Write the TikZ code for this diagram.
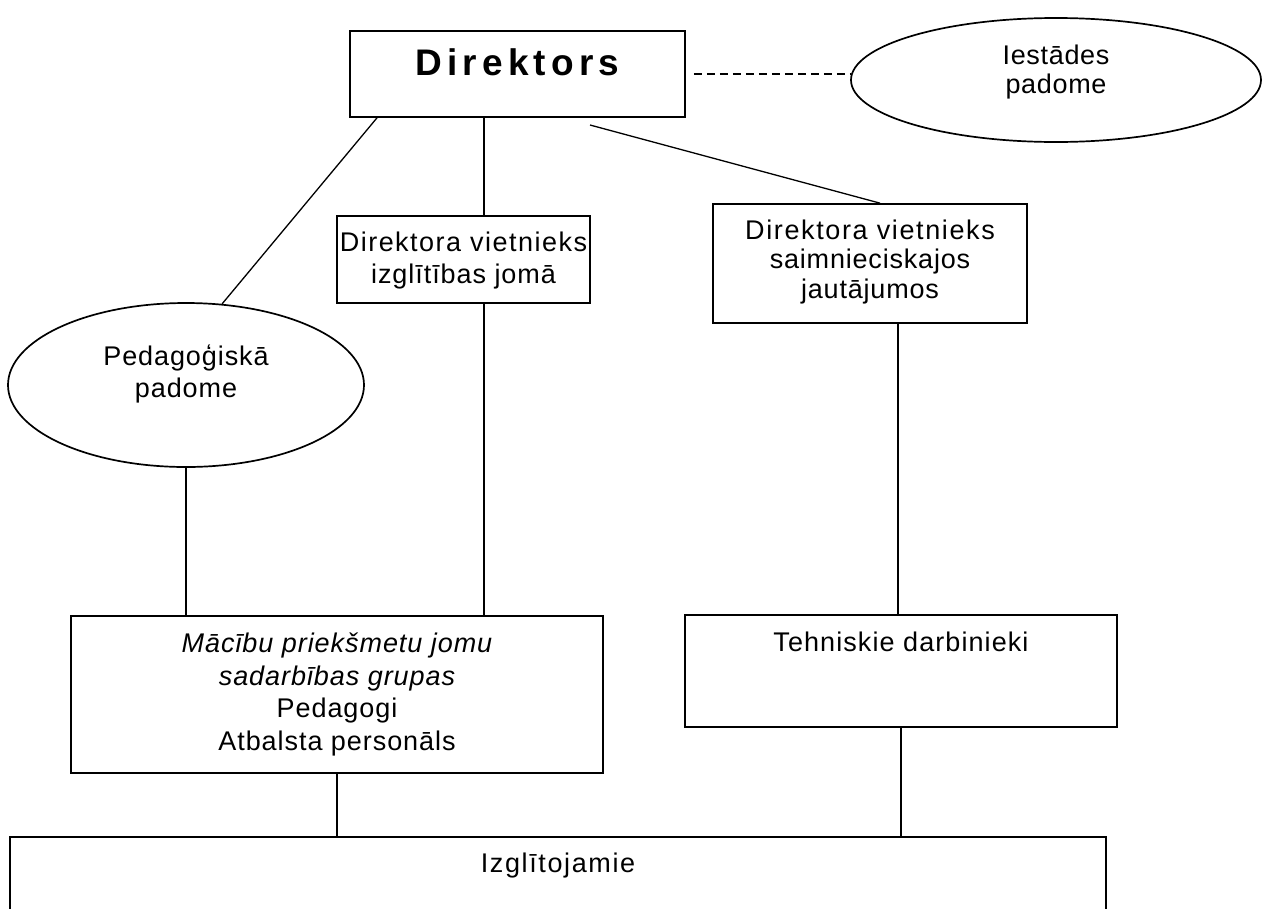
\documentclass[tikz,border=0pt]{standalone}
\usepackage{fontspec}
\setmainfont{Liberation Sans}
\usetikzlibrary{shapes.geometric}
\begin{document}
\begin{tikzpicture}[x=1pt,y=-1pt,
  box/.style={draw, line width=1.7pt, rectangle, inner sep=0pt, align=center},
  oval/.style={draw, line width=1.7pt, ellipse, inner sep=0pt, align=center},
  conn/.style={line width=1.3pt},
  txt/.style={font=\fontsize{27}{32}\selectfont\addfontfeature{LetterSpace=3.5}}]
\useasboundingbox (0,0) rectangle (1268,908);

\node[box, minimum width=335pt, minimum height=86pt, text height=27pt, text depth=25pt,
  font=\fontsize{37}{40}\selectfont\bfseries\addfontfeature{LetterSpace=14}] (dir) at (517.5,74) {Direktors};

\node[oval, minimum width=410pt, minimum height=124pt, text depth=21pt,
  font=\fontsize{27}{29}\selectfont\addfontfeature{LetterSpace=2.5}] (ies) at (1056,80) {Iestādes\\padome};

\node[oval, minimum width=356pt, minimum height=164pt, text depth=27pt,
  font=\fontsize{27}{32}\selectfont\addfontfeature{LetterSpace=3.4}] (ped) at (186,385) {Pedagoģiskā\\padome};

\node[box, txt, minimum width=253pt, minimum height=87pt, text depth=2.7pt] (vz) at (463.5,259.5)
  {{\addfontfeature{LetterSpace=5.5}Direktora vietnieks}\\izglītības jomā};

\node[box, minimum width=314pt, minimum height=119pt, text depth=9.5pt,
  font=\fontsize{27}{29.5}\selectfont\addfontfeature{LetterSpace=3}] (sa) at (870,263.5)
  {{\addfontfeature{LetterSpace=6}Direktora vietnieks}\\saimnieciskajos\\jautājumos};

\node[box, minimum width=532pt, minimum height=157pt,
  font=\fontsize{27}{32.5}\selectfont\addfontfeature{LetterSpace=3.5}] (mac) at (337,694.5)
  {{\itshape Mācību priekšmetu jomu}\\{\itshape sadarbības grupas}\\Pedagogi\\Atbalsta personāls};

\node[box, minimum width=432pt, minimum height=112pt, text height=19pt, text depth=59pt,
  font=\fontsize{27}{31}\selectfont\addfontfeature{LetterSpace=4}] (teh) at (901,671)
  {Tehniskie darbinieki};

\node[box, minimum width=1096pt, minimum height=120pt, text height=19pt, text depth=69pt,
  font=\fontsize{27}{31}\selectfont\addfontfeature{LetterSpace=6}] (izg) at (558,897) {Izglītojamie};

\coordinate (cA) at (377,0);
\coordinate (cB) at (484,0);
\coordinate (cS) at (590,125);
\coordinate (cT) at (880,0);
\coordinate (cU) at (898,0);
\coordinate (cV) at (901,0);
\coordinate (cW) at (337,0);

\draw[conn] (dir.south -| cA) -- (ped.66);
\draw[conn] (dir.south -| cB) -- (vz.north -| cB);
\draw[conn] (cS) -- (sa.north -| cT);
\draw[conn] (ped.south) -- (ped.south |- mac.north);
\draw[conn] (vz.south -| cB) -- (mac.north -| cB);
\draw[conn] (sa.south -| cU) -- (teh.north -| cU);
\draw[conn] (mac.south -| cW) -- (izg.north -| cW);
\draw[conn] (teh.south -| cV) -- (izg.north -| cV);
\draw[conn, dash pattern=on 8pt off 5pt] ([xshift=8pt]dir.east) -- (dir.east -| ies.west);
\end{tikzpicture}
\end{document}
